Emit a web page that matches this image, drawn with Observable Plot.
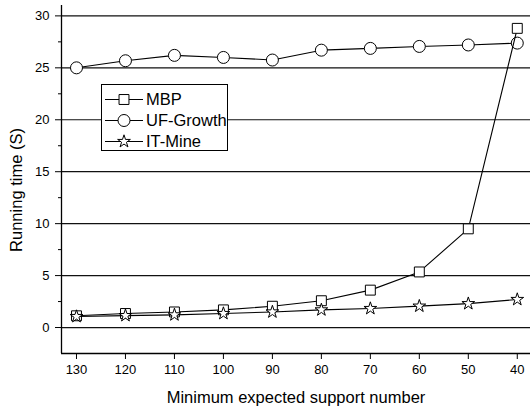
<!DOCTYPE html>
<html>
<head>
<meta charset="utf-8">
<script src="https://cdn.jsdelivr.net/npm/d3@7"></script>
<script src="https://cdn.jsdelivr.net/npm/@observablehq/plot@0.6"></script>
<style>
  html, body { margin: 0; padding: 0; background: #fff; }
  #wrap { position: relative; width: 530px; height: 409px; font-family: "Liberation Sans", Arial, sans-serif; }
  #legend { position: absolute; left: 101px; top: 84px; width: 125px; height: 65px; border: 1px solid #000; background: #fff; }
</style>
</head>
<body>
<div id="wrap"><div id="chart"></div><div id="legend"></div></div>
<script>
// Data
const support = [130, 120, 110, 100, 90, 80, 70, 60, 50, 40];
const mbp      = [1.13, 1.35, 1.5, 1.7, 2.05, 2.58, 3.6, 5.35, 9.5, 28.8];
const ufGrowth = [25.0, 25.68, 26.2, 26.0, 25.75, 26.7, 26.87, 27.06, 27.2, 27.38];
const itMine   = [1.06, 1.15, 1.22, 1.35, 1.5, 1.7, 1.83, 2.06, 2.3, 2.7];
const seriesNames = ["MBP", "UF-Growth", "IT-Mine"];
const seriesSymbols = ["square", "circle", "star"];
const yTicks = [0, 5, 10, 15, 20, 25, 30];
const yMinor = [2.5, 7.5, 12.5, 17.5, 22.5, 27.5];
const xTicks = [130, 120, 110, 100, 90, 80, 70, 60, 50, 40];
const xTitle = "Minimum expected support number";
const yTitle = "Running time (S)";

const values = [mbp, ufGrowth, itMine];
const rows = [];
seriesNames.forEach((name, si) => {
  support.forEach((s, i) => rows.push({series: name, x: s, y: values[si][i]}));
});
const bySeries = n => rows.filter(d => d.series === n);

const xDomain = [133.06, 37.3];
const yDomain = [-2.5, 31];

const symR = {square: 5.6, circle: 6, star: 4};

const plot = Plot.plot({
  width: 530,
  height: 409,
  marginLeft: 61,
  marginRight: 0,
  marginTop: 5,
  marginBottom: 56,
  style: {fontFamily: "Liberation Sans, Arial, sans-serif", fontSize: "13px", color: "#000", background: "#fff"},
  x: {domain: xDomain, axis: null},
  y: {domain: yDomain, axis: null},
  marks: [
    Plot.ruleY(yTicks, {stroke: "#111", strokeWidth: 1.2}),
    Plot.ruleY([yDomain[0]], {stroke: "#000", strokeWidth: 1.3}),
    Plot.ruleX([xDomain[0]], {stroke: "#000", strokeWidth: 1.3}),
    Plot.axisY(yTicks, {tickSize: 6, tickPadding: 6, fontSize: 13, label: null, stroke: "#000"}),
    Plot.axisY(yMinor, {tickSize: 3, text: null, label: null, stroke: "#000"}),
    Plot.axisX(xTicks, {tickSize: 6, tickPadding: 5, fontSize: 13, label: null, stroke: "#000"}),
    Plot.line(bySeries("UF-Growth"), {x: "x", y: "y", stroke: "#000", strokeWidth: 1.1}),
    Plot.dot(bySeries("UF-Growth"), {x: "x", y: "y", symbol: "circle", r: symR.circle, fill: "#fff", stroke: "#000", strokeWidth: 1}),
    Plot.line(bySeries("MBP"), {x: "x", y: "y", stroke: "#000", strokeWidth: 1.1}),
    Plot.dot(bySeries("MBP"), {x: "x", y: "y", symbol: "square", r: symR.square, fill: "#fff", stroke: "#000", strokeWidth: 1}),
    Plot.line(bySeries("IT-Mine"), {x: "x", y: "y", stroke: "#000", strokeWidth: 1.1}),
    Plot.dot(bySeries("IT-Mine"), {x: "x", y: "y", symbol: "star", r: symR.star, fill: "#fff", stroke: "#000", strokeWidth: 1})
  ]
});
document.getElementById("chart").appendChild(plot);

// axis titles
const svg = d3.select(plot);
svg.append("text")
  .attr("x", 296).attr("y", 403)
  .attr("text-anchor", "middle")
  .attr("font-size", 16.5)
  .attr("fill", "#000")
  .text(xTitle);
svg.append("text")
  .attr("transform", "translate(22,190) rotate(-90)")
  .attr("text-anchor", "middle")
  .attr("font-size", 16.5)
  .attr("fill", "#000")
  .text(yTitle);

// legend
const leg = d3.select("#legend").append("svg").attr("width", 125).attr("height", 65)
  .style("font-family", "Liberation Sans, Arial, sans-serif");
seriesNames.forEach((name, i) => {
  const cy = 14.5 + i * 21;
  const g = leg.append("g");
  g.append("line").attr("x1", 3).attr("x2", 41).attr("y1", cy).attr("y2", cy).attr("stroke", "#000").attr("stroke-width", 1.1);
  const sym = {square: d3.symbolSquare, circle: d3.symbolCircle, star: d3.symbolStar}[seriesSymbols[i]];
  const r = symR[seriesSymbols[i]];
  g.append("path").attr("d", d3.symbol(sym, Math.PI * r * r)())
    .attr("transform", `translate(22,${cy})`)
    .attr("fill", "#fff").attr("stroke", "#000").attr("stroke-width", 1);
  g.append("text").attr("x", 44).attr("y", cy).attr("dy", "0.36em")
    .attr("font-size", 16.5).attr("fill", "#000").text(name);
});
</script>
</body>
</html>
